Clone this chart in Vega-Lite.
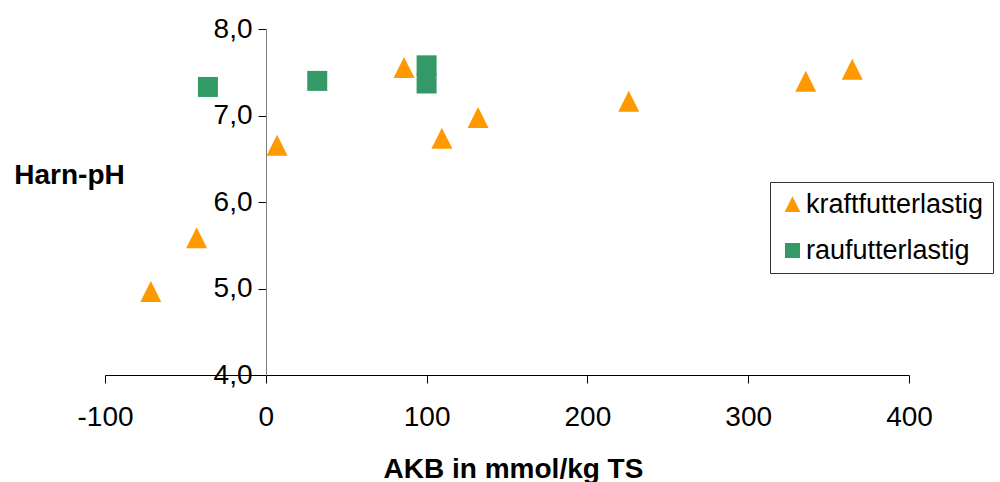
{
  "$schema": "https://vega.github.io/schema/vega-lite/v6.json",
  "width": 804,
  "height": 346,
  "autosize": {"type": "none"},
  "padding": {"left": 105, "top": 29, "right": 91, "bottom": 107},
  "background": "white",
  "config": {"view": {"stroke": null}, "font": "Liberation Sans"},
  "data": {
    "values": [
      {"akb": -71.5, "ph": 4.96, "gruppe": "kraftfutterlastig"},
      {"akb": -43, "ph": 5.58, "gruppe": "kraftfutterlastig"},
      {"akb": 7, "ph": 6.65, "gruppe": "kraftfutterlastig"},
      {"akb": 86, "ph": 7.55, "gruppe": "kraftfutterlastig"},
      {"akb": 109.5, "ph": 6.73, "gruppe": "kraftfutterlastig"},
      {"akb": 132, "ph": 6.97, "gruppe": "kraftfutterlastig"},
      {"akb": 225.7, "ph": 7.16, "gruppe": "kraftfutterlastig"},
      {"akb": 335.8, "ph": 7.39, "gruppe": "kraftfutterlastig"},
      {"akb": 364.7, "ph": 7.53, "gruppe": "kraftfutterlastig"},
      {"akb": -36, "ph": 7.33, "gruppe": "raufutterlastig"},
      {"akb": 32, "ph": 7.40, "gruppe": "raufutterlastig"},
      {"akb": 100, "ph": 7.58, "gruppe": "raufutterlastig"},
      {"akb": 100, "ph": 7.37, "gruppe": "raufutterlastig"}
    ]
  },
  "mark": {"type": "point", "filled": true, "opacity": 1, "size": 400, "strokeWidth": 0},
  "encoding": {
    "x": {
      "field": "akb",
      "type": "quantitative",
      "scale": {"domain": [-100, 400], "nice": false, "zero": false},
      "axis": {
        "values": [-100, 0, 100, 200, 300, 400],
        "grid": false,
        "labelFlush": false,
        "domainColor": "#000000",
        "tickColor": "#000000",
        "tickSize": 8,
        "labelFontSize": 28,
        "labelColor": "#000000",
        "labelPadding": 20,
        "labelExpr": "toString(datum.value)",
        "title": "AKB in mmol/kg TS",
        "titleFontSize": 28,
        "titleFontWeight": "bold",
        "titleColor": "#000000",
        "titleX": 408,
        "titleY": 102,
        "titleAlign": "center",
        "titleBaseline": "alphabetic"
      }
    },
    "y": {
      "field": "ph",
      "type": "quantitative",
      "scale": {"domain": [4, 8], "nice": false, "zero": false},
      "axis": {
        "values": [4, 5, 6, 7, 8],
        "offset": -161,
        "grid": false,
        "labelFlush": false,
        "domainColor": "#808080",
        "tickColor": "#000000",
        "tickSize": 8,
        "labelFontSize": 28,
        "labelColor": "#000000",
        "labelPadding": 6,
        "labelExpr": "replace(format(datum.value, '.1f'), '.', ',')",
        "title": "Harn-pH",
        "titleFontSize": 28,
        "titleFontWeight": "bold",
        "titleColor": "#000000",
        "titleAngle": 0,
        "titleX": -197,
        "titleY": 154,
        "titleAlign": "center",
        "titleBaseline": "alphabetic"
      }
    },
    "color": {
      "field": "gruppe",
      "type": "nominal",
      "scale": {"domain": ["kraftfutterlastig", "raufutterlastig"], "range": ["#FF9900", "#339966"]},
      "legend": {
        "title": null,
        "orient": "none",
        "legendX": 665,
        "legendY": 153,
        "padding": 9,
        "strokeColor": "#333333",
        "fillColor": "white",
        "rowPadding": 18,
        "labelFontSize": 27,
        "labelColor": "#000000",
        "labelOffset": 0,
        "labelLimit": 400,
        "symbolSize": 225,
        "symbolStrokeWidth": 0
      }
    },
    "shape": {
      "field": "gruppe",
      "type": "nominal",
      "scale": {"domain": ["kraftfutterlastig", "raufutterlastig"], "range": ["M0,-1.1L-1.05,1L1.05,1Z", "square"]}
    }
  }
}
